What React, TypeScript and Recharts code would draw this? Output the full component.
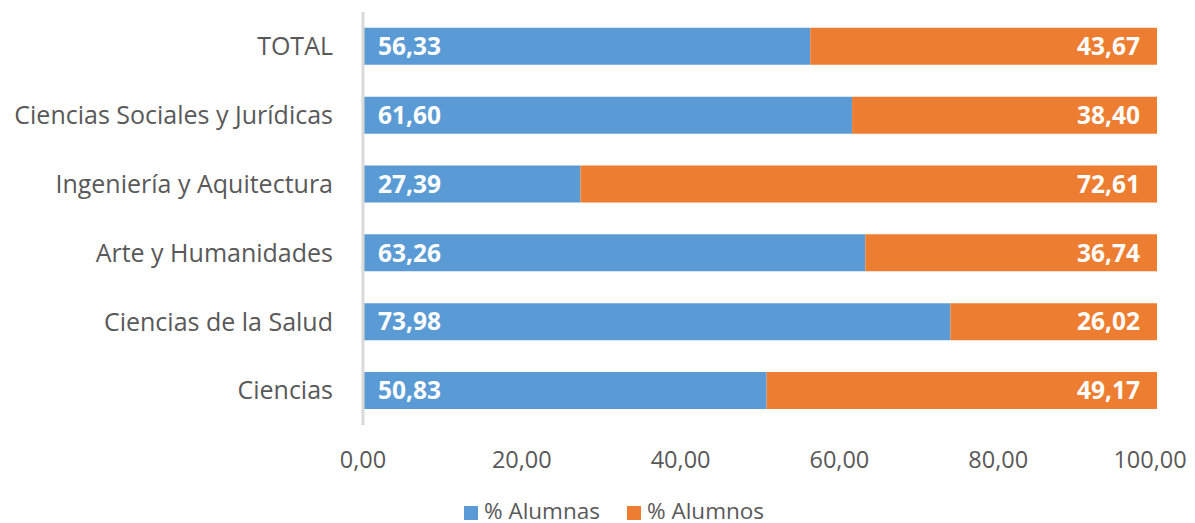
import { BarChart, Bar, XAxis, YAxis, Legend, LabelList } from "recharts";

const categories = [
    "TOTAL",
    "Ciencias Sociales y Jurídicas",
    "Ingeniería y Aquitectura",
    "Arte y Humanidades",
    "Ciencias de la Salud",
    "Ciencias",
];

const alumnas = [56.33, 61.6, 27.39, 63.26, 73.98, 50.83];
const alumnos = [43.67, 38.4, 72.61, 36.74, 26.02, 49.17];

const xTicks = [0, 20, 40, 60, 80, 100];

const data = categories.map((name, i) => ({
    name,
    alumnas: alumnas[i],
    alumnos: alumnos[i],
}));

const fmt = (v: number) => Number(v).toFixed(2).replace(".", ",");

const font = "'Open Sans', sans-serif";

export default function App() {
    return (
        <div style={{ fontFamily: font }}>
            <BarChart
                width={1179}
                height={515}
                data={data}
                layout="vertical"
                margin={{ top: 4, right: 30, left: 0, bottom: 0 }}
                barCategoryGap="23%"
            >
                <XAxis
                    type="number"
                    domain={[0, 100]}
                    ticks={xTicks}
                    tickFormatter={fmt}
                    axisLine={false}
                    tickLine={false}
                    tickMargin={20}
                    tick={{ fill: "#595959", fontSize: 23.5, fontFamily: font }}
                    height={76}
                />
                <YAxis
                    type="category"
                    dataKey="name"
                    width={355}
                    axisLine={{ stroke: "#d9d9d9", strokeWidth: 3 }}
                    tickLine={false}
                    tickMargin={24}
                    tick={{ fill: "#595959", fontSize: 25, fontFamily: font }}
                />
                <Legend
                    verticalAlign="bottom"
                    align="center"
                    iconType="square"
                    iconSize={14}
                    wrapperStyle={{ fontSize: 22.5, lineHeight: "22px", color: "#595959", bottom: 1, paddingLeft: 45 }}
                    formatter={(value) => (
                        <span
                            style={{
                                color: "#595959",
                                marginLeft: 2,
                                marginRight: 17,
                                display: "inline-block",
                                height: 22,
                                lineHeight: "22px",
                                overflow: "visible",
                            }}
                        >
                            {value}
                        </span>
                    )}
                />
                <Bar
                    dataKey="alumnas"
                    name="% Alumnas"
                    stackId="a"
                    fill="#5B9BD5"
                    isAnimationActive={false}
                >
                    <LabelList
                        dataKey="alumnas"
                        position="insideLeft"
                        offset={15}
                        formatter={(v: any) => fmt(v)}
                        style={{ fill: "#fff", fontWeight: 700, fontSize: 24.5, fontFamily: font }}
                    />
                </Bar>
                <Bar
                    dataKey="alumnos"
                    name="% Alumnos"
                    stackId="a"
                    fill="#ED7D31"
                    isAnimationActive={false}
                >
                    <LabelList
                        dataKey="alumnos"
                        position="insideRight"
                        offset={17}
                        formatter={(v: any) => fmt(v)}
                        style={{ fill: "#fff", fontWeight: 700, fontSize: 24.5, fontFamily: font }}
                    />
                </Bar>
            </BarChart>
        </div>
    );
}
